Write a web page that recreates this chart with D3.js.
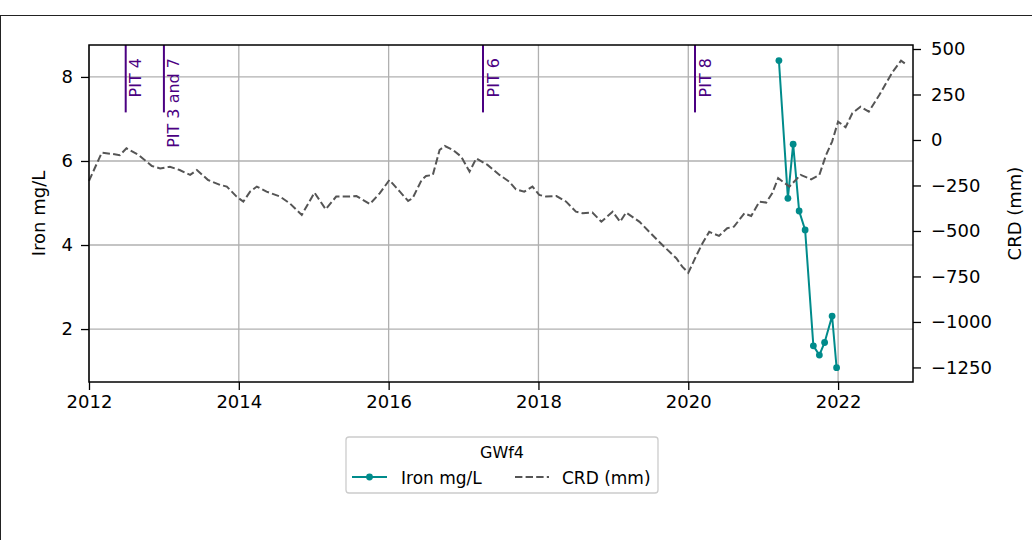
<!DOCTYPE html>
<html>
<head>
<meta charset="utf-8">
<script src="https://cdn.jsdelivr.net/npm/d3@7"></script>
<style>
  html, body { margin: 0; padding: 0; background: #fff; }
  svg { display: block; }
  text { font-family: "DejaVu Sans", sans-serif; }
</style>
</head>
<body>
<svg id="chart" width="1032" height="540"></svg>
<script>
// ---------------- data ----------------
const xTickValues = [2012, 2014, 2016, 2018, 2020, 2022];
const ironTickValues = [2, 4, 6, 8];
const crdTickValues = [500, 250, 0, -250, -500, -750, -1000, -1250];

// Iron (mg/L), well GWf4 — decimal year
const ironDates = [2021.21, 2021.33, 2021.40, 2021.48, 2021.56, 2021.67, 2021.75, 2021.82, 2021.92, 2021.98];
const ironValues = [8.39, 5.11, 6.40, 4.81, 4.36, 1.60, 1.38, 1.68, 2.31, 1.08];

// CRD (mm) — decimal year
const crdDates = [
  2012.00, 2012.17, 2012.32, 2012.41, 2012.50, 2012.66, 2012.84, 2012.95,
  2013.08, 2013.21, 2013.35, 2013.44, 2013.59, 2013.75, 2013.84, 2013.97,
  2014.06, 2014.15, 2014.24, 2014.37, 2014.55, 2014.68, 2014.84, 2015.01,
  2015.16, 2015.30, 2015.44, 2015.57, 2015.75, 2015.88, 2016.01, 2016.15,
  2016.26, 2016.32, 2016.44, 2016.50, 2016.59, 2016.68, 2016.75, 2016.86,
  2016.97, 2017.08, 2017.17, 2017.32, 2017.48, 2017.61, 2017.70, 2017.81,
  2017.92, 2018.01, 2018.10, 2018.24, 2018.37, 2018.50, 2018.59, 2018.72,
  2018.84, 2018.99, 2019.09, 2019.17, 2019.35, 2019.48, 2019.61, 2019.70,
  2019.84, 2019.92, 2020.00, 2020.12, 2020.19, 2020.28, 2020.41, 2020.52,
  2020.61, 2020.75, 2020.84, 2020.95, 2021.04, 2021.12, 2021.20, 2021.35,
  2021.50, 2021.64, 2021.75, 2021.84, 2021.92, 2022.00, 2022.10, 2022.19,
  2022.30, 2022.41, 2022.55, 2022.64, 2022.73, 2022.84, 2022.92
];
const crdValues = [
  -225, -70, -77, -84, -46, -82, -143, -156,
  -147, -165, -192, -165, -220, -247, -256, -311,
  -339, -284, -256, -284, -311, -348, -412, -289,
  -381, -311, -311, -308, -352, -293, -220, -284,
  -335, -320, -220, -198, -192, -55, -33, -55,
  -92, -174, -101, -137, -192, -229, -271, -284,
  -256, -302, -311, -308, -339, -394, -403, -399,
  -449, -394, -449, -399, -450, -505, -559, -595,
  -650, -696, -730, -625, -568, -505, -527, -485,
  -476, -403, -418, -339, -344, -293, -210, -256,
  -192, -216, -192, -82, -9, 101, 70, 147,
  183, 156, 247, 312, 375, 436, 412
];

// PIT events — decimal year
const pitLabels = ["PIT 4", "PIT 3 and 7", "PIT 6", "PIT 8"];
const pitDates = [2012.49, 2013.00, 2017.26, 2020.09];

const legendTitle = "GWf4";
const ironLabel = "Iron mg/L";
const crdLabel = "CRD (mm)";

// ---------------- layout ----------------
const W = 1032, H = 540;
const plot = { left: 89, right: 913, top: 45, bottom: 382 };
const font = "DejaVu Sans, sans-serif";
const ironColor = "#008b8b";
const crdColor = "#555555";
const pitColor = "#4b0082";
const gridColor = "#b0b0b0";

const svg = d3.select("#chart");
svg.append("rect").attr("x", 0).attr("y", 0).attr("width", W).attr("height", H).attr("fill", "#fff");
// figure frame (only top and left visible in the reference)
svg.append("rect").attr("x", 0.5).attr("y", 15.5).attr("width", W + 20).attr("height", H + 20)
  .attr("fill", "none").attr("stroke", "#222").attr("stroke-width", 1);

const x = d3.scaleLinear().domain([2012, 2023]).range([plot.left, plot.right]);
const yIron = d3.scaleLinear().domain([0.74, 8.76]).range([plot.bottom, plot.top]);
const yCrd = d3.scaleLinear().domain([-1330, 522]).range([plot.bottom, plot.top]);

// grid
const grid = svg.append("g");
grid.selectAll("line.gx").data(xTickValues).join("line")
  .attr("x1", d => x(d)).attr("x2", d => x(d))
  .attr("y1", plot.top).attr("y2", plot.bottom)
  .attr("stroke", gridColor).attr("stroke-width", 1.3);
grid.selectAll("line.gy").data(ironTickValues).join("line")
  .attr("x1", plot.left).attr("x2", plot.right)
  .attr("y1", d => yIron(d)).attr("y2", d => yIron(d))
  .attr("stroke", gridColor).attr("stroke-width", 1.3);

// PIT markers (axvline from 0.8 to 1 of axes height)
const pits = svg.append("g");
const pitData = pitDates.map((d, i) => ({ date: d, label: pitLabels[i] }));
const pitBottom = plot.bottom - 0.8 * (plot.bottom - plot.top);
pits.selectAll("line").data(pitData).join("line")
  .attr("x1", d => x(d.date)).attr("x2", d => x(d.date))
  .attr("y1", plot.top).attr("y2", pitBottom)
  .attr("stroke", pitColor).attr("stroke-width", 2);
pits.selectAll("text").data(pitData).join("text")
  .attr("transform", d => `translate(${x(d.date) + 15.5},${58}) rotate(-90)`)
  .attr("text-anchor", "end")
  .attr("font-size", 16)
  .attr("fill", pitColor)
  .text(d => d.label);

// Iron line
const ironData = ironDates.map((d, i) => ({ date: d, v: ironValues[i] }));
const ironLine = d3.line().x(d => x(d.date)).y(d => yIron(d.v));
svg.append("path").datum(ironData).attr("d", ironLine)
  .attr("fill", "none").attr("stroke", ironColor).attr("stroke-width", 2);
svg.append("g").selectAll("circle").data(ironData).join("circle")
  .attr("cx", d => x(d.date)).attr("cy", d => yIron(d.v)).attr("r", 3.4)
  .attr("fill", ironColor);

// CRD line (twin axis, drawn on top)
const crdData = crdDates.map((d, i) => ({ date: d, v: crdValues[i] }));
const crdLine = d3.line().x(d => x(d.date)).y(d => yCrd(d.v));
svg.append("path").datum(crdData).attr("d", crdLine)
  .attr("fill", "none").attr("stroke", crdColor).attr("stroke-width", 2)
  .attr("stroke-dasharray", "7.4,3.2");

// axes
const fmtMinus = d => d < 0 ? "\u2212" + Math.abs(d) : String(d);

const xAxis = svg.append("g").attr("transform", `translate(0,${plot.bottom})`)
  .call(d3.axisBottom(x).tickValues(xTickValues).tickFormat(d3.format("d")).tickSize(8).tickPadding(5));
const yAxisL = svg.append("g").attr("transform", `translate(${plot.left},0)`)
  .call(d3.axisLeft(yIron).tickValues(ironTickValues).tickFormat(d3.format("d")).tickSize(8).tickPadding(8));
const yAxisR = svg.append("g").attr("transform", `translate(${plot.right},0)`)
  .call(d3.axisRight(yCrd).tickValues(crdTickValues).tickFormat(fmtMinus).tickSize(8).tickPadding(10));

[xAxis, yAxisL, yAxisR].forEach(g => {
  g.select(".domain").remove();
  g.selectAll(".tick line").attr("stroke", "#000").attr("stroke-width", 1.3);
  g.selectAll(".tick text").attr("font-family", font).attr("font-size", 18).attr("fill", "#000");
});

// spines
svg.append("rect").attr("x", plot.left).attr("y", plot.top)
  .attr("width", plot.right - plot.left).attr("height", plot.bottom - plot.top)
  .attr("fill", "none").attr("stroke", "#000").attr("stroke-width", 1.5);

// axis labels
svg.append("text")
  .attr("transform", `translate(45,${(plot.top + plot.bottom) / 2}) rotate(-90)`)
  .attr("text-anchor", "middle").attr("font-size", 18).attr("fill", "#000")
  .text(ironLabel);
svg.append("text")
  .attr("transform", `translate(1021,${(plot.top + plot.bottom) / 2}) rotate(-90)`)
  .attr("text-anchor", "middle").attr("font-size", 18).attr("fill", "#000")
  .text(crdLabel);

// legend
const lg = svg.append("g");
lg.append("rect").attr("x", 346).attr("y", 437).attr("width", 312).attr("height", 56)
  .attr("rx", 3).attr("fill", "#fff").attr("fill-opacity", 0.8)
  .attr("stroke", "#cccccc").attr("stroke-width", 1.3);
lg.append("text").attr("x", 502).attr("y", 458).attr("text-anchor", "middle")
  .attr("font-size", 16).attr("fill", "#000").text(legendTitle);
lg.append("line").attr("x1", 352).attr("x2", 387).attr("y1", 477).attr("y2", 477)
  .attr("stroke", ironColor).attr("stroke-width", 2);
lg.append("circle").attr("cx", 369.5).attr("cy", 477).attr("r", 3.4).attr("fill", ironColor);
lg.append("text").attr("x", 401).attr("y", 483.5).attr("font-size", 17).attr("fill", "#000").text(ironLabel);
lg.append("line").attr("x1", 515).attr("x2", 549).attr("y1", 477).attr("y2", 477)
  .attr("stroke", crdColor).attr("stroke-width", 2).attr("stroke-dasharray", "7.4,3.2");
lg.append("text").attr("x", 562).attr("y", 483.5).attr("font-size", 17).attr("fill", "#000").text(crdLabel);
</script>
</body>
</html>
